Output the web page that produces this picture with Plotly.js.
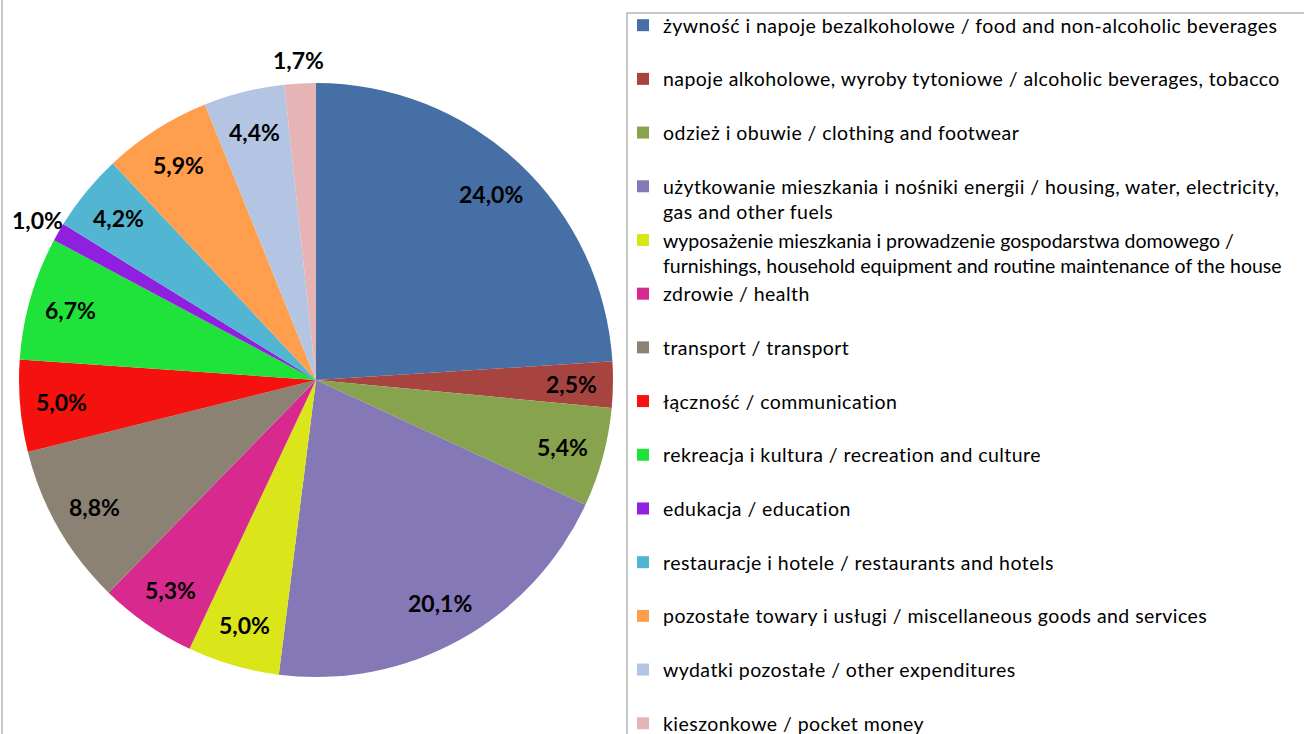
<!DOCTYPE html>
<html>
<head>
<meta charset="utf-8">
<script src="https://cdn.plot.ly/plotly-3.0.1.min.js"></script>
<style>
html, body { margin: 0; padding: 0; overflow: hidden; background: #fff; }
#chart { width: 1304px; height: 800px; }
#chart .legendtext { letter-spacing: 0.45px; }
#chart .legend .traces:nth-child(5) .legendtext { letter-spacing: 0px; }
</style>
</head>
<body>
<div id="chart"></div>
<script>
const categories = [
  "żywność i napoje bezalkoholowe / food and non-alcoholic beverages",
  "napoje alkoholowe, wyroby tytoniowe / alcoholic beverages, tobacco",
  "odzież i obuwie / clothing and footwear",
  "użytkowanie mieszkania i nośniki energii / housing, water, electricity,<br>gas and other fuels",
  "wyposażenie mieszkania i prowadzenie gospodarstwa domowego /<br>furnishings, household equipment and routine maintenance of the house",
  "zdrowie / health",
  "transport / transport",
  "łączność / communication",
  "rekreacja i kultura / recreation and culture",
  "edukacja / education",
  "restauracje i hotele / restaurants and hotels",
  "pozostałe towary i usługi / miscellaneous goods and services",
  "wydatki pozostałe / other expenditures",
  "kieszonkowe / pocket money"
];
const shares = [24.0, 2.5, 5.4, 20.1, 5.0, 5.3, 8.8, 5.0, 6.7, 1.0, 4.2, 5.9, 4.4, 1.7];
const colors = ["#4670A5", "#A84440", "#88A34E", "#8478B7", "#DAE61A", "#D82A8E", "#8C8274",
                "#F5110E", "#1FE33A", "#8F20DF", "#52B5D2", "#FF9E4C", "#B3C5E3", "#E6B4B4"];
const labelOutside = [false, false, false, false, false, false, false,
                      false, false, true, false, false, false, true];

const W = 1304, H = 800;
const cx = 316, cy = 380, r = 297;
const kInside = 0.86, kOutside = 1.08;

const legendLabels = categories.map(c => c.indexOf("<br>") >= 0 ? c : c + "<br> ");

const trace = {
  type: "pie",
  labels: legendLabels,
  values: shares,
  sort: false,
  direction: "clockwise",
  rotation: 0,
  marker: { colors: colors, line: { width: 0 } },
  textinfo: "none",
  hoverinfo: "none",
  domain: { x: [(cx - r) / W, (cx + r) / W], y: [(H - cy - r) / H, (H - cy + r) / H] }
};

// percentage labels placed at each slice's mid-angle (derived from the values)
const total = shares.reduce((a, b) => a + b, 0);
let cum = 0;
const annotations = shares.map((v, i) => {
  const mid = cum + v / 2;
  cum += v;
  const ang = (90 - 360 * mid / total) * Math.PI / 180;
  const k = labelOutside[i] ? kOutside : kInside;
  const px = cx + k * r * Math.cos(ang);
  const py = cy - k * r * Math.sin(ang);
  return {
    xref: "paper", yref: "paper",
    x: px / W, y: 1 - py / H,
    xanchor: "center", yanchor: "middle",
    showarrow: false,
    text: v.toFixed(1).replace(".", ",") + "%",
    font: { family: "Lato, 'Open Sans', sans-serif", size: 23, color: "#000", weight: 700 }
  };
});

const layout = {
  width: W,
  height: H,
  margin: { l: 0, r: 0, t: 0, b: 0, autoexpand: false },
  paper_bgcolor: "#fff",
  showlegend: true,
  legend: {
    x: 623 / W, xanchor: "left",
    y: 1 - 6 / H, yanchor: "top",
    borderwidth: 0,
    bgcolor: "rgba(0,0,0,0)",
    valign: "top",
    font: { family: "Lato, 'Open Sans', sans-serif", size: 19.5, color: "#000" },
    tracegroupgap: 0
  },
  annotations: annotations,
  shapes: [
    { type: "rect", xref: "paper", yref: "paper", x0: 627 / W, x1: 1.05, y0: -0.1, y1: 1 - 13 / H,
      line: { color: "#B4B4B4", width: 1.5 }, fillcolor: "rgba(0,0,0,0)" },
    { type: "line", xref: "paper", yref: "paper", x0: 2 / W, x1: 2 / W, y0: -0.1, y1: 1.1,
      line: { color: "#B4B4B4", width: 1.5 } }
  ]
};

Plotly.newPlot("chart", [trace], layout, { displayModeBar: false, staticPlot: true });
</script>
</body>
</html>
